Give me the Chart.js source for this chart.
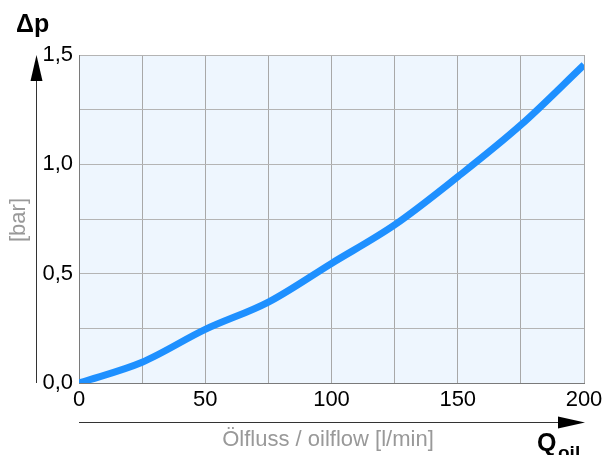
<!DOCTYPE html>
<html>
<head>
<meta charset="utf-8">
<script src="https://cdn.jsdelivr.net/npm/chart.js@4"></script>
<style>
  html, body { margin: 0; padding: 0; background: #fff; }
  #wrap { width: 603px; height: 455px; }
</style>
</head>
<body>
<div id="wrap"><canvas id="flowChart" width="603" height="455"></canvas></div>
<script>
// Data
const flowValues = [0, 25, 50, 75, 100, 125, 150, 175, 200];
const pressureValues = [0, 0.095, 0.245, 0.37, 0.547, 0.723, 0.943, 1.18, 1.455];
const xTickLabels = [0, 50, 100, 150, 200];
const yTickLabels = [0, 0.5, 1.0, 1.5];

const FONT = '"Liberation Sans", Arial, sans-serif';

// Plot background + arrows and the extra labels
const decorations = {
  id: 'decorations',
  beforeDraw(chart) {
    const { ctx, chartArea: a } = chart;
    ctx.save();
    ctx.fillStyle = '#eef6fe';
    ctx.fillRect(a.left, a.top, a.right - a.left, a.bottom - a.top);
    ctx.restore();
  },
  afterDraw(chart) {
    const { ctx, chartArea: a } = chart;
    ctx.save();
    ctx.strokeStyle = '#333';
    ctx.fillStyle = '#000';
    ctx.lineWidth = 1;

    // vertical axis arrow
    const ax = 36.5;
    ctx.beginPath();
    ctx.moveTo(ax, a.bottom);
    ctx.lineTo(ax, a.top + 20);
    ctx.stroke();
    ctx.beginPath();
    ctx.moveTo(ax, a.top);
    ctx.lineTo(ax - 6, a.top + 26);
    ctx.lineTo(ax + 6, a.top + 26);
    ctx.closePath();
    ctx.fill();

    // horizontal axis arrow
    const ay = 422.5;
    ctx.beginPath();
    ctx.moveTo(a.left, ay);
    ctx.lineTo(a.right - 20, ay);
    ctx.stroke();
    ctx.beginPath();
    ctx.moveTo(a.right + 1, ay);
    ctx.lineTo(a.right - 26, ay - 6);
    ctx.lineTo(a.right - 26, ay + 6);
    ctx.closePath();
    ctx.fill();

    // axis captions
    ctx.fillStyle = '#999';
    ctx.font = '22px ' + FONT;
    ctx.textAlign = 'center';
    ctx.textBaseline = 'middle';
    ctx.fillText('Ölfluss / oilflow [l/min]', 328, 440);

    ctx.save();
    ctx.translate(19, 220);
    ctx.rotate(-Math.PI / 2);
    ctx.fillText('[bar]', 0, 0);
    ctx.restore();

    ctx.fillStyle = '#000';
    ctx.textAlign = 'left';
    ctx.textBaseline = 'alphabetic';
    ctx.font = 'bold 25px ' + FONT;
    ctx.fillText('Δp', 16, 32);
    ctx.fillText('Q', 537, 451);
    ctx.font = 'bold 19px ' + FONT;
    ctx.fillText('oil', 558, 459);
    ctx.restore();
  }
};

const ctx = document.getElementById('flowChart').getContext('2d');
new Chart(ctx, {
  type: 'line',
  data: {
    labels: flowValues,
    datasets: [{
      data: flowValues.map((x, i) => ({ x: x, y: pressureValues[i] })),
      borderColor: '#1e90ff',
      borderWidth: 7,
      pointRadius: 0,
      cubicInterpolationMode: 'monotone',
      borderCapStyle: 'butt',
      fill: false
    }]
  },
  options: {
    responsive: false,
    animation: false,
    layout: { padding: { top: 55, right: 0, left: 0, bottom: 0 } },
    plugins: { legend: { display: false }, tooltip: { enabled: false } },
    scales: {
      x: {
        type: 'linear',
        min: 0,
        max: 200,
        afterBuildTicks: (scale) => {
          scale.ticks = [];
          for (let v = 0; v <= 200; v += 25) scale.ticks.push({ value: v });
        },
        afterFit: (scale) => {
          scale.height = 72;
          scale.paddingLeft = 0;
          scale.paddingRight = 19;
        },
        ticks: {
          color: '#000',
          font: { family: FONT, size: 22 },
          padding: 4,
          maxRotation: 0,
          autoSkip: false,
          callback: (v) => xTickLabels.includes(v) ? String(v) : ''
        },
        grid: { color: '#a8a8a8', drawTicks: false },
        border: { color: '#7a7a7a' }
      },
      y: {
        min: 0,
        max: 1.5,
        afterBuildTicks: (scale) => {
          scale.ticks = [];
          for (let v = 0; v <= 1.5001; v += 0.25) scale.ticks.push({ value: Math.round(v * 100) / 100 });
        },
        afterFit: (scale) => { scale.width = 79; },
        ticks: {
          color: '#000',
          font: { family: FONT, size: 22 },
          padding: 6,
          autoSkip: false,
          callback: (v) => yTickLabels.includes(v) ? v.toFixed(1).replace('.', ',') : ''
        },
        grid: { color: '#b4b4b4', drawTicks: false },
        border: { color: '#7a7a7a' }
      }
    }
  },
  plugins: [decorations]
});
</script>
</body>
</html>
